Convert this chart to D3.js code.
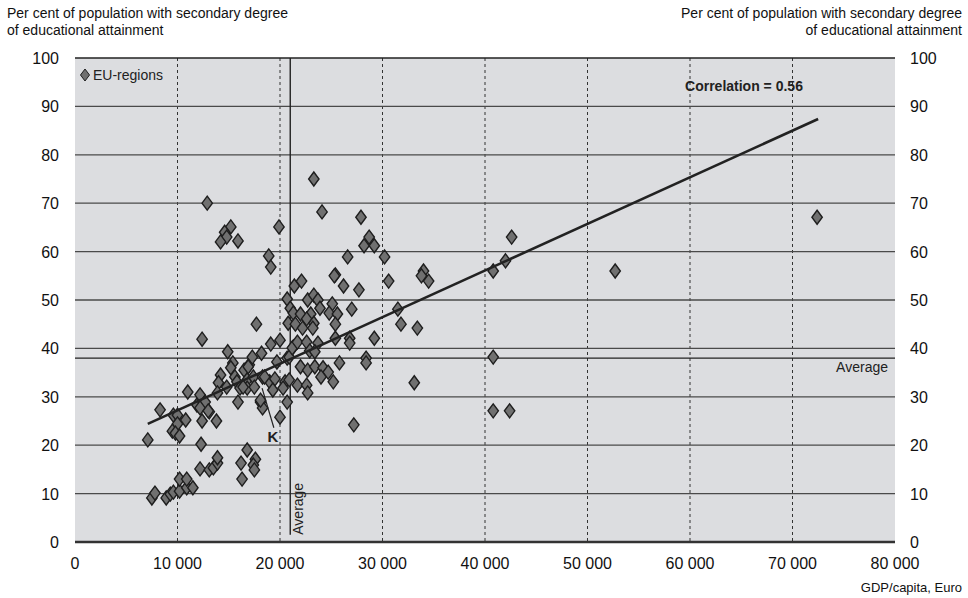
<!DOCTYPE html>
<html><head><meta charset="utf-8">
<script src="https://cdn.jsdelivr.net/npm/d3@7"></script>
<style>body{margin:0;background:#fff;} text{font-family:"Liberation Sans",Arial,Helvetica,sans-serif;}</style>
</head><body><svg id="c" width="968" height="598"></svg>
<script>
// GDP per capita (thousand euro) and share with secondary education (%)
const gdpK = [
 7.1,7.5,7.8,8.9,9.3,9.6,10.2,10.9,11.5,10.2,10.9,12.3,12.2,13.1,13.5,13.9,13.9,16.2,16.8,17.6,17.4,17.5,16.3,
 8.3,9.6,10.0,10.8,10.0,9.5,9.8,10.2,12.4,13.1,13.8,11.9,12.5,15.9,18.1,18.3,20.0,20.7,11.0,12.2,12.7,12.2,13.0,18.1,
 12.4,14.9,15.4,15.2,14.2,15.6,16.5,17.0,15.8,16.8,17.4,18.3,19.0,19.5,20.5,14.0,14.8,13.9,16.1,16.8,17.5,19.3,20.3,
 17.3,18.2,19.1,20.0,19.7,20.7,21.3,20.9,21.2,16.9,17.7,18.5,16.4,20.9,
 21.4,22.1,20.7,22.7,23.3,23.7,23.9,25.1,24.8,25.6,27.0,25.4,21.0,21.3,22.0,23.0,22.6,20.8,21.5,23.3,22.2,23.2,
 21.7,22.6,23.7,25.4,26.8,26.8,29.2,22.9,23.4,22.0,22.7,23.4,24.2,24.7,25.2,24.0,21.7,22.6,22.7,25.8,28.4,28.4,
 31.5,31.8,33.4,33.1,27.2,
 12.9,15.2,14.6,14.8,14.2,15.9,19.9,18.9,19.1,23.3,24.1,27.9,28.7,28.2,29.2,26.6,30.2,25.4,25.3,26.2,27.7,30.6,
 42.6,42.0,40.8,34.0,33.8,34.5,40.8,40.8,42.4,52.7,72.4
];
const secondary = [
 21.1,9.1,10.1,9.1,9.9,10.3,10.5,11.2,11.2,13.0,13.0,20.2,15.1,14.9,15.3,16.3,17.4,16.3,19.0,17.1,15.9,14.9,13.0,
 27.3,26.2,26.2,25.2,24.4,22.9,22.5,21.9,25.0,26.9,25.0,28.3,28.9,28.9,28.9,27.7,25.8,28.9,31.0,30.4,28.9,27.7,27.1,29.3,
 41.9,39.3,37.0,36.0,34.5,34.1,35.5,36.6,33.1,33.5,34.1,34.1,33.1,33.7,33.1,32.9,32.0,30.8,31.8,31.8,32.0,31.4,31.8,
 38.2,39.0,40.9,41.7,37.2,38.0,40.3,38.2,40.1,36.2,45.0,34.1,32.0,33.5,
 52.9,53.9,50.2,50.0,51.0,50.0,48.3,49.2,47.3,47.1,48.1,45.0,48.3,47.3,47.1,47.1,46.1,45.2,45.0,45.2,44.2,44.2,
 41.3,41.3,41.1,42.1,42.1,41.1,42.1,39.5,39.3,36.2,35.5,36.2,36.0,35.1,33.1,34.1,32.4,32.4,30.8,37.0,38.0,37.0,
 48.1,45.0,44.2,32.9,24.2,
 70.0,65.1,64.0,63.0,62.0,62.2,65.1,59.1,56.8,75.0,68.2,67.1,63.0,61.2,61.2,58.9,58.9,55.2,55.0,52.9,52.1,53.9,
 63.0,58.1,56.0,56.0,55.0,53.9,38.2,27.1,27.1,56.0,67.1
];
const trendX = [7100, 72500];
const trendY = [24.4, 87.4];
const avgGdp = 21000;
const avgSecondary = 38;
const xTicks = [0,10000,20000,30000,40000,50000,60000,70000,80000];
const yTicks = [0,10,20,30,40,50,60,70,80,90,100];
const kLineX = [19400, 18250];
const kLineY = [23.6, 31.8];
const kLabel = [19300, 20.6];
const yTitle = ["Per cent of population with secondary degree","of educational attainment"];

const svg = d3.select("#c");
const x = d3.scaleLinear().domain([0,80000]).range([75,895]);
const y = d3.scaleLinear().domain([0,100]).range([542,58]);
const fmt = v => v===0 ? "0" : d3.format(",")(v).replace(/,/g," ");

svg.append("rect").attr("x",x(0)).attr("y",y(100)).attr("width",x(80000)-x(0)).attr("height",y(0)-y(100)).attr("fill","#dcdde0");

// vertical dashed grid
svg.append("g").selectAll("line").data(xTicks.filter(d=>d>0&&d<80000)).join("line")
  .attr("x1",d=>x(d)).attr("x2",d=>x(d)).attr("y1",y(100)).attr("y2",y(0))
  .attr("stroke","#333").attr("stroke-width",1).attr("stroke-dasharray","3,3");
// horizontal grid
svg.append("g").selectAll("line").data(yTicks.filter(d=>d>0)).join("line")
  .attr("x1",x(0)).attr("x2",x(80000)).attr("y1",d=>y(d)).attr("y2",d=>y(d))
  .attr("stroke",d=>d===100?"#222":"#4a4a4a").attr("stroke-width",d=>d===100?1.6:1.3);
svg.append("line").attr("x1",x(0)).attr("x2",x(80000)).attr("y1",y(0)).attr("y2",y(0)).attr("stroke","#333").attr("stroke-width",2.5);

// averages
svg.append("line").attr("x1",x(0)).attr("x2",x(80000)).attr("y1",y(avgSecondary)).attr("y2",y(avgSecondary)).attr("stroke","#222").attr("stroke-width",1.4);
svg.append("line").attr("x1",x(avgGdp)).attr("x2",x(avgGdp)).attr("y1",y(100)).attr("y2",y(1.5)).attr("stroke","#222").attr("stroke-width",1.4);
svg.append("text").attr("x",888).attr("y",y(avgSecondary)+14).attr("text-anchor","end").attr("font-size",14).attr("fill","#222").text("Average");
svg.append("text").attr("transform",`translate(${x(avgGdp)+13},${y(1.5)}) rotate(-90)`).attr("font-size",14).attr("fill","#222").text("Average");

// points
const diamond = "M0,-7L5.2,0L0,7L-5.2,0Z";
svg.append("g").selectAll("path").data(gdpK.map((g,i)=>[g*1000,secondary[i]])).join("path")
  .attr("d",diamond).attr("transform",d=>`translate(${x(d[0])},${y(d[1])})`)
  .attr("fill","#707070").attr("stroke","#1e1e1e").attr("stroke-width",1.4);

// trend
svg.append("line").attr("x1",x(trendX[0])).attr("y1",y(trendY[0])).attr("x2",x(trendX[1])).attr("y2",y(trendY[1]))
  .attr("stroke","#222").attr("stroke-width",2.6);

// K annotation
svg.append("line").attr("x1",x(kLineX[0])).attr("y1",y(kLineY[0])).attr("x2",x(kLineX[1])).attr("y2",y(kLineY[1])).attr("stroke","#222").attr("stroke-width",1.2);
svg.append("text").attr("x",x(kLabel[0])).attr("y",y(kLabel[1])).attr("text-anchor","middle").attr("font-size",15).attr("font-weight","bold").attr("fill","#222").text("K");

// legend & correlation
svg.append("path").attr("d","M0,-6L4.5,0L0,6L-4.5,0Z").attr("transform","translate(85,75)").attr("fill","#707070").attr("stroke","#1e1e1e").attr("stroke-width",1);
svg.append("text").attr("x",93).attr("y",80).attr("font-size",14).attr("fill","#222").text("EU-regions");
svg.append("text").attr("x",744).attr("y",91).attr("text-anchor","middle").attr("font-size",14).attr("font-weight","bold").attr("fill","#222").text("Correlation = 0.56");

// axes labels
const lab = svg.append("g").attr("font-size",16).attr("fill","#111");
lab.selectAll(".yl").data(yTicks).join("text").attr("x",59).attr("y",d=>y(d)+6).attr("text-anchor","end").attr("font-size",16).text(d=>d);
lab.selectAll(".yr").data(yTicks).join("text").attr("x",910).attr("y",d=>y(d)+6).attr("text-anchor","start").attr("font-size",16).text(d=>d);
lab.selectAll(".xl").data(xTicks).join("text").attr("x",d=>x(d)).attr("y",569).attr("text-anchor","middle").attr("font-size",16).text(fmt);

// titles
yTitle.forEach((t,i)=>{
  svg.append("text").attr("x",7).attr("y",18+i*17).attr("font-size",14).attr("fill","#111").text(t);
  svg.append("text").attr("x",962).attr("y",18+i*17).attr("text-anchor","end").attr("font-size",14).attr("fill","#111").text(t);
});
svg.append("text").attr("x",962).attr("y",592).attr("text-anchor","end").attr("font-size",13).attr("fill","#111").text("GDP/capita, Euro");
</script></body></html>
